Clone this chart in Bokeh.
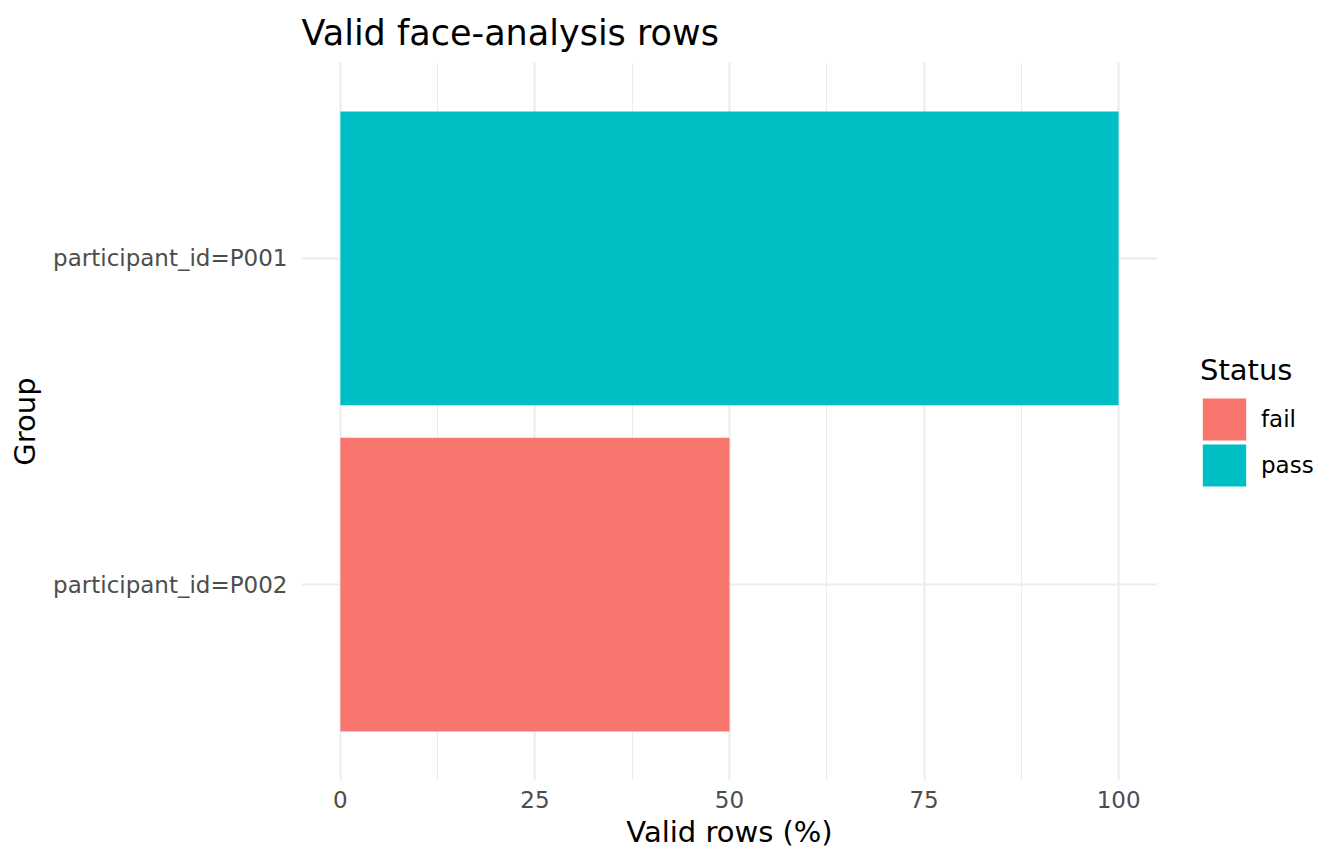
from bokeh.plotting import figure
from bokeh.layouts import row
from bokeh.models import (ColumnDataSource, FactorRange, Range1d, FixedTicker,
                          Legend, LegendItem)
from bokeh.transform import factor_cmap
from bokeh.embed import file_html
from bokeh.resources import INLINE

# ---- data ----
groups = ["participant_id=P001", "participant_id=P002"]
valid_pct = [100, 50]
status = ["pass", "fail"]
status_levels = ["fail", "pass"]
status_colors = ["#F8766D", "#00BFC4"]
x_breaks = [0, 25, 50, 75, 100]
x_minor = [12.5, 37.5, 62.5, 87.5]

FONT = "DejaVu Sans"

src = ColumnDataSource(dict(group=groups, pct=valid_pct, status=status))
yr = FactorRange(factors=list(reversed(groups)), range_padding=0.1)
xr = Range1d(-5, 105)
fill = factor_cmap("status", status_colors, status_levels)

p = figure(
    width=1157, height=864,
    y_range=yr, x_range=xr,
    output_backend="svg", toolbar_location=None,
    min_border_left=301, min_border_right=0,
    min_border_top=62, min_border_bottom=84,
)
p.outline_line_color = None
p.background_fill_color = "white"
p.border_fill_color = "white"

r = p.hbar(y="group", right="pct", left=0, height=0.9, source=src,
           fill_color=fill, line_color=None)

# title
p.title.text = "Valid face-analysis rows"
p.title.text_font = FONT
p.title.text_font_size = "35px"
p.title.text_font_style = "normal"
p.title.text_color = "black"
p.title.align = "left"
p.title.offset = 0
p.title.standoff = 20

# axes
p.xaxis.ticker = FixedTicker(ticks=x_breaks, minor_ticks=x_minor)
for ax in (p.xaxis[0], p.yaxis[0]):
    ax.axis_line_color = None
    ax.major_tick_line_color = None
    ax.minor_tick_line_color = None
    ax.major_tick_out = 0
    ax.major_tick_in = 0
    ax.minor_tick_out = 0
    ax.minor_tick_in = 0
    ax.major_label_text_font = FONT
    ax.major_label_text_font_size = "23px"
    ax.major_label_text_color = "#4D4D4D"
    ax.axis_label_text_font = FONT
    ax.axis_label_text_font_size = "29px"
    ax.axis_label_text_font_style = "normal"
    ax.axis_label_text_color = "black"

p.xaxis.axis_label = "Valid rows (%)"
p.yaxis.axis_label = "Group"
p.xaxis.major_label_standoff = 10
p.xaxis.axis_label_standoff = 4
p.yaxis.major_label_standoff = 14
p.yaxis.axis_label_standoff = 8

# grid
p.xgrid.grid_line_color = "#EBEBEB"
p.xgrid.grid_line_width = 2
p.xgrid.minor_grid_line_color = "#EBEBEB"
p.xgrid.minor_grid_line_width = 1
p.ygrid.grid_line_color = "#EBEBEB"
p.ygrid.grid_line_width = 2

# ---- legend panel (separate figure to the right) ----
lf = figure(
    width=187, height=864, y_range=yr, x_range=xr,
    x_axis_type=None, y_axis_type=None,
    output_backend="svg", toolbar_location=None,
    min_border=0,
)
lf.outline_line_color = None
lf.xgrid.visible = False
lf.ygrid.visible = False
lf.background_fill_color = "white"
lf.border_fill_color = "white"
lr = lf.hbar(y="group", right="pct", left=0, height=0.9, source=src,
             fill_color=fill, line_color=fill, line_width=5,
             line_join="miter", visible=False)

items = [LegendItem(label=lvl, renderers=[lr], index=status.index(lvl))
         for lvl in status_levels]
legend = Legend(items=items, location=(43, 292), title="Status")
legend.title_text_font = FONT
legend.title_text_font_size = "29px"
legend.title_text_font_style = "normal"
legend.title_text_color = "black"
legend.title_standoff = 9
legend.label_text_font = FONT
legend.label_text_font_size = "23px"
legend.label_text_color = "black"
legend.glyph_width = 48
legend.glyph_height = 46
legend.label_height = 20
legend.spacing = 0
legend.label_standoff = 13
legend.padding = 0
legend.margin = 0
legend.border_line_color = None
legend.background_fill_alpha = 0
lf.add_layout(legend, "center")

layout = row(p, lf, spacing=0)
open("out.html", "w").write(file_html(layout, INLINE))
